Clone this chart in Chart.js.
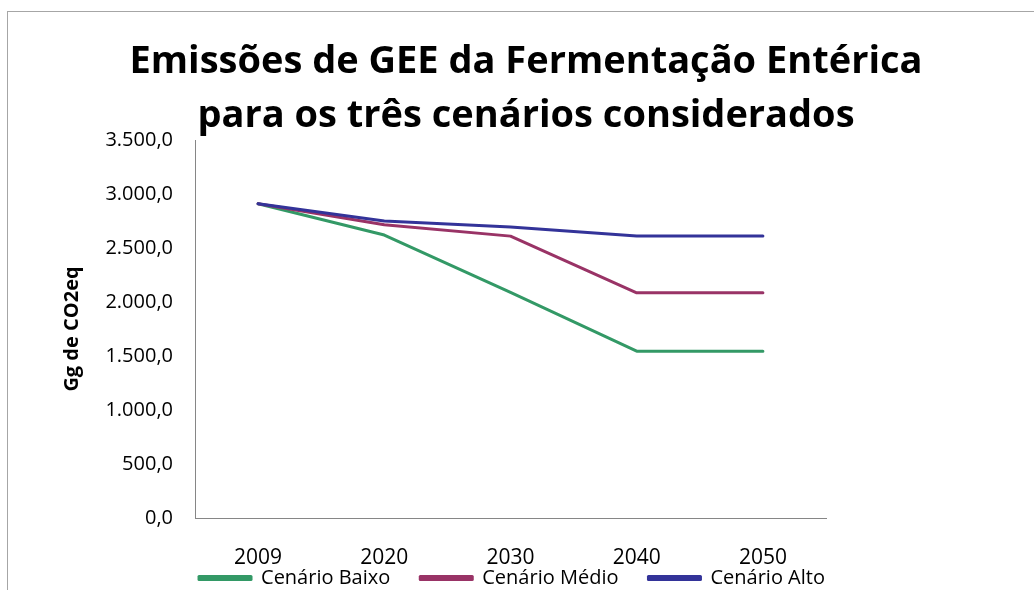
<!DOCTYPE html>
<html>
<head>
<meta charset="utf-8">
<script src="https://cdn.jsdelivr.net/npm/chart.js@4"></script>
<style>
  html, body { margin: 0; padding: 0; background: #fff; }
  #wrap { width: 1034px; height: 590px; }
</style>
</head>
<body>
<div id="wrap"><canvas id="chart"></canvas></div>
<script>
"use strict";

const years = ["2009", "2020", "2030", "2040", "2050"];
const cenarioBaixo = [2910, 2620, 2090, 1545, 1545];
const cenarioMedio = [2910, 2715, 2610, 2085, 2085];
const cenarioAlto = [2910, 2750, 2695, 2610, 2610];
const titleLines = ["Emissões de GEE da Fermentação Entérica", "para os três cenários considerados"];

const LEGEND_PAD = 30;

// 3500 -> "3.500,0"
function fmt(v) {
    let s = Math.round(v).toString().replace(/\B(?=(\d{3})+(?!\d))/g, ".");
    return s + ",0";
}

// border of the chart + two line title drawn over the top
const frameAndTitle = {
    id: 'frameAndTitle',
    afterLayout(chart) {
        // legend sits under the axis labels, centred under the plot
        const lg = chart.legend;
        const dx = 512 - (lg.left + lg.right) / 2;
        const dy = (578 - LEGEND_PAD - 10) - lg.top;
        lg.left += dx; lg.right += dx;
        lg.top += dy; lg.bottom += dy;
    },
    beforeDraw(chart) {
        const ctx = chart.ctx;
        ctx.save();
        ctx.strokeStyle = '#a6a6a6';
        ctx.lineWidth = 1;
        ctx.strokeRect(7.5, 11.5, 1200, 800);
        ctx.restore();
    },
    afterDraw(chart) {
        const ctx = chart.ctx;
        ctx.save();
        ctx.fillStyle = '#000';
        ctx.font = 'bold 38px "Open Sans"';
        ctx.textAlign = 'center';
        ctx.textBaseline = 'alphabetic';
        ctx.fillText(titleLines[0], 526, 73);
        ctx.fillText(titleLines[1], 526, 127);
        ctx.restore();
    }
};

const ctx = document.getElementById('chart').getContext('2d');
new Chart(ctx, {
    type: 'line',
    data: {
        labels: years,
        datasets: [
            {
                label: 'Cenário Baixo',
                data: cenarioBaixo,
                borderColor: '#339966',
                backgroundColor: '#339966',
                order: 3
            },
            {
                label: 'Cenário Médio',
                data: cenarioMedio,
                borderColor: '#993366',
                backgroundColor: '#993366',
                order: 2
            },
            {
                label: 'Cenário Alto',
                data: cenarioAlto,
                borderColor: '#333399',
                backgroundColor: '#333399',
                order: 1
            }
        ]
    },
    options: {
        responsive: true,
        maintainAspectRatio: false,
        animation: false,
        elements: {
            line: { borderWidth: 3, tension: 0, borderCapStyle: 'round', borderJoinStyle: 'round' },
            point: { radius: 0, hoverRadius: 0 }
        },
        layout: {
            padding: { top: 140, left: 0, right: 208, bottom: -(LEGEND_PAD + 30) }
        },
        plugins: {
            legend: {
                display: true,
                position: 'bottom',
                labels: {
                    boxWidth: 52,
                    boxHeight: 3,
                    padding: LEGEND_PAD,
                    color: '#000',
                    font: { family: 'Open Sans', size: 20 },
                    sort: (a, b) => a.datasetIndex - b.datasetIndex
                }
            },
            tooltip: { enabled: false }
        },
        scales: {
            x: {
                offset: true,
                grid: { display: false, drawTicks: false },
                border: { display: true, color: '#868686', width: 1 },
                ticks: {
                    padding: 27,
                    color: '#000',
                    font: { family: 'Open Sans', size: 21 }
                },
                afterFit(scale) { scale.height = 72; }
            },
            y: {
                min: 0,
                max: 3500,
                grid: { display: false, drawTicks: false },
                border: { display: true, color: '#868686', width: 1 },
                ticks: {
                    stepSize: 500,
                    padding: 22,
                    color: '#000',
                    font: { family: 'Open Sans', size: 20 },
                    callback: (value) => fmt(value)
                },
                title: {
                    display: true,
                    text: 'Gg de CO2eq',
                    color: '#000',
                    padding: { top: 60, bottom: 0 },
                    font: { family: 'Open Sans', size: 20, weight: 'bold' }
                },
                afterFit(scale) { scale.width = 195; }
            }
        }
    },
    plugins: [frameAndTitle]
});
</script>
</body>
</html>
